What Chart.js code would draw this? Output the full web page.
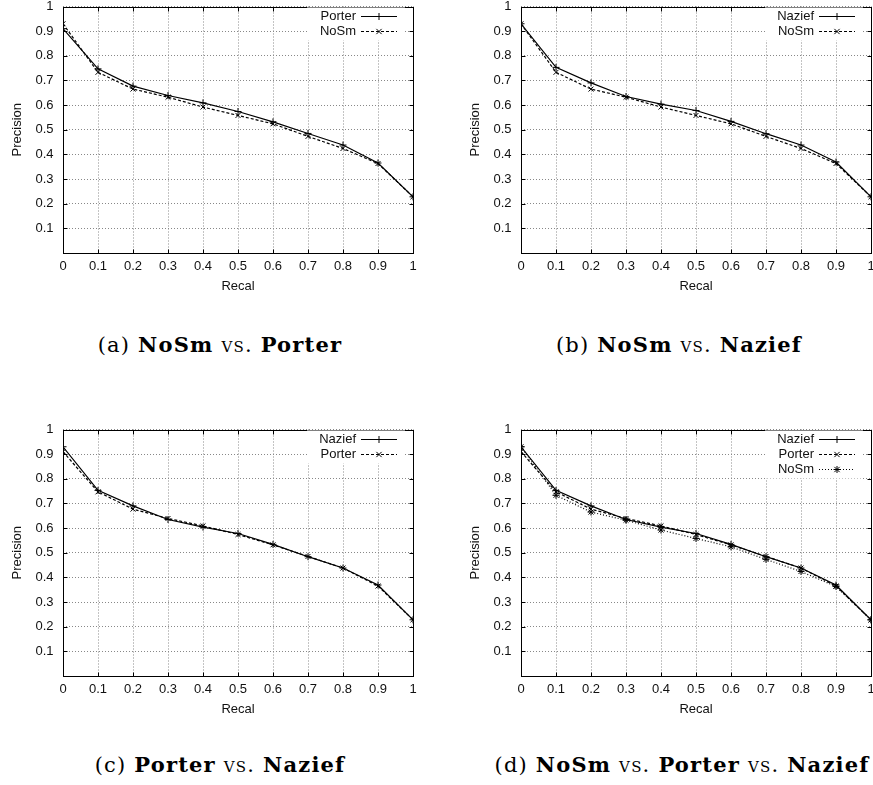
<!DOCTYPE html>
<html>
<head>
<meta charset="utf-8">
<script src="https://cdn.jsdelivr.net/npm/chart.js@4.4.1/dist/chart.umd.min.js"></script>
<style>
html, body { margin: 0; padding: 0; background: #fff; width: 873px; height: 785px; overflow: hidden; position: relative; }
canvas { position: absolute; }
.cap { position: absolute; font-family: "DejaVu Serif", serif; font-size: 21px; line-height: 21px; color: #000; white-space: nowrap; transform: translateX(-50%); letter-spacing: 1.2px; }
.cap b { font-weight: bold; }
.cap .sc { font-variant: small-caps; }
</style>
</head>
<body>
<canvas id="pa" width="437" height="300" style="left:0px;top:0px"></canvas>
<canvas id="pb" width="437" height="300" style="left:458px;top:0px"></canvas>
<canvas id="pc" width="437" height="300" style="left:0px;top:423px"></canvas>
<canvas id="pd" width="437" height="300" style="left:458px;top:423px"></canvas>

<div class="cap" style="left:220px;top:334px">(a) <b>NoSm</b> <span class="sc">vs.</span> <b>Porter</b></div>
<div class="cap" style="left:679px;top:334px">(b) <b>NoSm</b> <span class="sc">vs.</span> <b>Nazief</b></div>
<div class="cap" style="left:220px;top:754px">(c) <b>Porter</b> <span class="sc">vs.</span> <b>Nazief</b></div>
<div class="cap" style="left:682px;top:754px">(d) <b>NoSm</b> <span class="sc">vs.</span> <b>Porter</b> <span class="sc">vs.</span> <b>Nazief</b></div>

<script>
// recall levels and precision per stemmer
const recall = [0, 0.1, 0.2, 0.3, 0.4, 0.5, 0.6, 0.7, 0.8, 0.9, 1];
const nosm   = [0.93, 0.733, 0.665, 0.632, 0.592, 0.558, 0.524, 0.473, 0.424, 0.363, 0.228];
const porter = [0.91, 0.747, 0.677, 0.639, 0.609, 0.574, 0.532, 0.485, 0.438, 0.365, 0.228];
const nazief = [0.93, 0.753, 0.690, 0.635, 0.604, 0.578, 0.534, 0.484, 0.438, 0.369, 0.228];

const xTickLabels = ["0", "0.1", "0.2", "0.3", "0.4", "0.5", "0.6", "0.7", "0.8", "0.9", "1"];
const yTicks = [0, 0.1, 0.2, 0.3, 0.4, 0.5, 0.6, 0.7, 0.8, 0.9, 1];
const yTickLabels = ["", "0.1", "0.2", "0.3", "0.4", "0.5", "0.6", "0.7", "0.8", "0.9", "1"];

// gnuplot line types 1, 2, 3
const lineTypes = [
    { dash: [], point: "cross" },
    { dash: [3, 2], point: "crossRot" },
    { dash: [1, 2], point: "star" }
];

const FONT = "'Liberation Sans', Arial, sans-serif";
const TEXT = "#111";

function drawMarker(ctx, style, x, y, r) {
    ctx.beginPath();
    if (style === "cross" || style === "star") {
        ctx.moveTo(x - r, y); ctx.lineTo(x + r, y);
        ctx.moveTo(x, y - r); ctx.lineTo(x, y + r);
    }
    if (style === "crossRot" || style === "star") {
        const d = r * 0.75;
        ctx.moveTo(x - d, y - d); ctx.lineTo(x + d, y + d);
        ctx.moveTo(x - d, y + d); ctx.lineTo(x + d, y - d);
    }
    ctx.stroke();
}

// border box and inward tick marks
const framePlugin = {
    id: "frame",
    beforeDatasetsDraw(chart) {
        const ctx = chart.ctx;
        const a = chart.chartArea;
        const L = Math.round(a.left) + 0.5, R = Math.round(a.right) + 0.5;
        const T = Math.round(a.top) + 0.5, B = Math.round(a.bottom) + 0.5;
        ctx.save();
        ctx.strokeStyle = "#000";
        ctx.lineWidth = 1;
        ctx.setLineDash([]);
        ctx.strokeRect(L, T, R - L, B - T);
        ctx.beginPath();
        chart.scales.x.ticks.forEach(t => {
            const px = Math.round(chart.scales.x.getPixelForValue(t.value)) + 0.5;
            ctx.moveTo(px, B); ctx.lineTo(px, B - 4);
            ctx.moveTo(px, T); ctx.lineTo(px, T + 4);
        });
        chart.scales.y.ticks.forEach(t => {
            const py = Math.round(chart.scales.y.getPixelForValue(t.value)) + 0.5;
            ctx.moveTo(L, py); ctx.lineTo(L + 4, py);
            ctx.moveTo(R, py); ctx.lineTo(R - 4, py);
        });
        ctx.stroke();
        ctx.restore();
    }
};

// gnuplot style key, top right inside the plot
const keyPlugin = {
    id: "key",
    afterDatasetsDraw(chart) {
        const ctx = chart.ctx;
        const a = chart.chartArea;
        const sets = chart.data.datasets;
        const rowH = 15;
        ctx.save();
        ctx.fillStyle = "#fff";
        ctx.fillRect(a.right - 106, a.top + 1, 98, sets.length * rowH + 3);
        sets.forEach((ds, i) => {
            const y = Math.round(a.top + 9 + i * rowH) + 0.5;
            ctx.fillStyle = TEXT;
            ctx.font = "13px " + FONT;
            ctx.textAlign = "right";
            ctx.textBaseline = "middle";
            ctx.fillText(ds.label, a.right - 57, y);
            ctx.strokeStyle = "#000";
            ctx.lineWidth = 1.2;
            ctx.setLineDash(ds.borderDash);
            ctx.beginPath();
            ctx.moveTo(a.right - 52, y);
            ctx.lineTo(a.right - 16, y);
            ctx.stroke();
            ctx.setLineDash([]);
            ctx.lineWidth = 1;
            drawMarker(ctx, ds.pointStyle, a.right - 34, y, 3.5);
        });
        ctx.restore();
    }
};

function makeChart(id, series, yAxisWidth) {
    const tickFont = { family: FONT, size: 13, lineHeight: 1 };
    new Chart(document.getElementById(id), {
        type: "line",
        data: {
            datasets: series.map((s, i) => ({
                label: s.name,
                data: recall.map((r, k) => ({ x: r, y: s.values[k] })),
                borderColor: "#000",
                backgroundColor: "#000",
                borderWidth: 1.2,
                borderDash: lineTypes[i].dash,
                pointStyle: lineTypes[i].point,
                pointRadius: 3.5,
                pointBorderWidth: 1,
                pointBorderColor: "#000",
                tension: 0,
                fill: false
            }))
        },
        options: {
            responsive: false,
            animation: false,
            events: [],
            layout: { padding: { top: 6.5, right: 24, left: 0, bottom: 0 } },
            plugins: { legend: { display: false }, tooltip: { enabled: false } },
            scales: {
                x: {
                    type: "linear",
                    min: 0,
                    max: 1,
                    afterBuildTicks: s => { s.ticks = recall.map(v => ({ value: v })); },
                    afterFit: s => { s.height = 300 - 253; },
                    ticks: {
                        callback: (v, i) => xTickLabels[i],
                        padding: 7,
                        maxRotation: 0,
                        autoSkip: false,
                        font: tickFont,
                        color: TEXT
                    },
                    grid: { color: "#888", lineWidth: 1, drawTicks: false },
                    border: { display: false, dash: [1, 2] },
                    title: { display: true, text: "Recal", color: TEXT, font: tickFont, padding: { top: 0, bottom: 7.5 } }
                },
                y: {
                    min: 0,
                    max: 1,
                    afterBuildTicks: s => { s.ticks = yTicks.map(v => ({ value: v })); },
                    afterFit: s => { s.width = yAxisWidth; },
                    ticks: {
                        callback: (v, i) => yTickLabels[i],
                        padding: 0,
                        autoSkip: false,
                        font: tickFont,
                        color: TEXT
                    },
                    // invisible tick marks just push the labels away from the frame
                    grid: { color: "#888", lineWidth: 1, drawTicks: true, tickLength: 9.5, tickColor: "rgba(0,0,0,0)" },
                    border: { display: false, dash: [1, 2] },
                    title: { display: true, text: "Precision", color: TEXT, font: tickFont, padding: { top: 10.5, bottom: 0 } }
                }
            }
        },
        plugins: [framePlugin, keyPlugin]
    });
}

makeChart("pa", [{ name: "Porter", values: porter }, { name: "NoSm", values: nosm }], 63);
makeChart("pb", [{ name: "Nazief", values: nazief }, { name: "NoSm", values: nosm }], 63);
makeChart("pc", [{ name: "Nazief", values: nazief }, { name: "Porter", values: porter }], 63);
makeChart("pd", [{ name: "Nazief", values: nazief }, { name: "Porter", values: porter }, { name: "NoSm", values: nosm }], 63);
</script>
</body>
</html>
